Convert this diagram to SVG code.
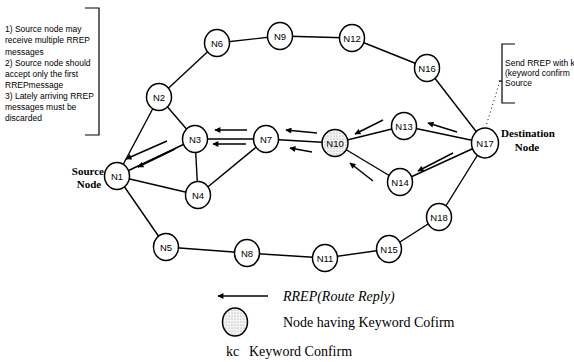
<svg xmlns="http://www.w3.org/2000/svg" width="574" height="362" viewBox="0 0 574 362">
<style>
.edge{stroke:#000;stroke-width:1.4;fill:none}
.arr{stroke:#000;stroke-width:1.5;fill:none;marker-end:url(#ah)}
.node{fill:#fff;stroke:#000;stroke-width:1.5}
.kc{fill:url(#dots);stroke:#000;stroke-width:1.5}
.nl{font-family:"Liberation Sans",Arial,sans-serif;font-size:9.5px;text-anchor:middle;fill:#000}
.note{font-family:"Liberation Sans",Arial,sans-serif;font-size:8.5px;fill:#000}
.lab{font-family:"Liberation Serif","Times New Roman",serif;font-size:11px;font-weight:bold;fill:#000}
.leg{font-family:"Liberation Serif","Times New Roman",serif;font-size:14px;fill:#000}
.br{stroke:#000;stroke-width:1.2;fill:none}
</style>
<defs>
<marker id="ah" viewBox="0 0 10 10" refX="9" refY="5" markerWidth="7" markerHeight="6" markerUnits="userSpaceOnUse" orient="auto">
<path d="M0,0 L10,5 L0,10 z" fill="#000"/>
</marker>
<pattern id="dots" width="3" height="3" patternUnits="userSpaceOnUse">
<rect width="3" height="3" fill="#f4f4f4"/>
<circle cx="1" cy="1" r="0.6" fill="#999"/>
</pattern>
</defs>
<rect width="574" height="362" fill="#fff"/>

<g id="connectors">
<line class="edge" x1="117" y1="176" x2="159" y2="97"/>
<line class="edge" x1="117" y1="176" x2="195" y2="139"/>
<line class="edge" x1="117" y1="176" x2="198" y2="195"/>
<line class="edge" x1="117" y1="176" x2="166" y2="247"/>
<line class="edge" x1="159" y1="97" x2="195" y2="139"/>
<line class="edge" x1="159" y1="97" x2="217" y2="43"/>
<line class="edge" x1="195" y1="139" x2="198" y2="195"/>
<line class="edge" x1="195" y1="139" x2="266" y2="139"/>
<line class="edge" x1="198" y1="195" x2="266" y2="139"/>
<line class="edge" x1="166" y1="247" x2="247" y2="253"/>
<line class="edge" x1="247" y1="253" x2="325" y2="258"/>
<line class="edge" x1="325" y1="258" x2="389" y2="249"/>
<line class="edge" x1="389" y1="249" x2="439" y2="217"/>
<line class="edge" x1="439" y1="217" x2="485" y2="143"/>
<line class="edge" x1="217" y1="43" x2="280" y2="36"/>
<line class="edge" x1="280" y1="36" x2="352" y2="38"/>
<line class="edge" x1="352" y1="38" x2="427" y2="68"/>
<line class="edge" x1="427" y1="68" x2="485" y2="143"/>
<line class="edge" x1="266" y1="139" x2="335" y2="143"/>
<line class="edge" x1="335" y1="143" x2="404" y2="126"/>
<line class="edge" x1="335" y1="143" x2="400" y2="182"/>
<line class="edge" x1="404" y1="126" x2="485" y2="143"/>
<line class="edge" x1="400" y1="182" x2="485" y2="143"/>
<line x1="500" y1="81" x2="486" y2="126" stroke="#000" stroke-width="1" stroke-dasharray="1 3"/>
<!-- RREP arrows -->
<line class="arr" x1="457" y1="132" x2="428" y2="123"/>
<line class="arr" x1="453" y1="153" x2="418" y2="171"/>
<line class="arr" x1="383" y1="120" x2="355" y2="134"/>
<line class="arr" x1="373" y1="181" x2="350" y2="163"/>
<line class="arr" x1="317" y1="133" x2="286" y2="130"/>
<line class="arr" x1="312" y1="152" x2="290" y2="148"/>
<line class="arr" x1="247" y1="130" x2="215" y2="130"/>
<line class="arr" x1="246" y1="144" x2="213" y2="144"/>
<line class="arr" x1="167" y1="141" x2="126" y2="159"/>
<line class="arr" x1="175" y1="149" x2="138" y2="167"/>
</g>

<g id="N1"><ellipse class="node" cx="117" cy="176" rx="12.5" ry="13.5"/><text class="nl" x="117" y="179.5">N1</text></g>
<g id="N2"><ellipse class="node" cx="159" cy="97" rx="12.5" ry="13.5"/><text class="nl" x="159" y="100.5">N2</text></g>
<g id="N3"><ellipse class="node" cx="195" cy="139" rx="12.5" ry="13.5"/><text class="nl" x="195" y="142.5">N3</text></g>
<g id="N4"><ellipse class="node" cx="198" cy="195" rx="12.5" ry="13.5"/><text class="nl" x="198" y="198.5">N4</text></g>
<g id="N5"><ellipse class="node" cx="166" cy="247" rx="12.5" ry="13.5"/><text class="nl" x="166" y="250.5">N5</text></g>
<g id="N6"><ellipse class="node" cx="217" cy="43" rx="12.5" ry="13.5"/><text class="nl" x="217" y="46.5">N6</text></g>
<g id="N7"><ellipse class="node" cx="266" cy="139" rx="12.5" ry="13.5"/><text class="nl" x="266" y="142.5">N7</text></g>
<g id="N8"><ellipse class="node" cx="247" cy="253" rx="12.5" ry="13.5"/><text class="nl" x="247" y="256.5">N8</text></g>
<g id="N9"><ellipse class="node" cx="280" cy="36" rx="12.5" ry="13.5"/><text class="nl" x="280" y="39.5">N9</text></g>
<g id="N10"><ellipse class="kc" cx="335" cy="143" rx="13" ry="13.5"/><text class="nl" x="335" y="146.5">N10</text></g>
<g id="N11"><ellipse class="node" cx="325" cy="258" rx="12.5" ry="13.5"/><text class="nl" x="325" y="261.5">N11</text></g>
<g id="N12"><ellipse class="node" cx="352" cy="38" rx="12.5" ry="13.5"/><text class="nl" x="352" y="41.5">N12</text></g>
<g id="N13"><ellipse class="node" cx="404" cy="126" rx="12.5" ry="13.5"/><text class="nl" x="404" y="129.5">N13</text></g>
<g id="N14"><ellipse class="node" cx="400" cy="182" rx="12.5" ry="13.5"/><text class="nl" x="400" y="185.5">N14</text></g>
<g id="N15"><ellipse class="node" cx="389" cy="249" rx="12.5" ry="13.5"/><text class="nl" x="389" y="252.5">N15</text></g>
<g id="N16"><ellipse class="node" cx="427" cy="68" rx="12.5" ry="13.5"/><text class="nl" x="427" y="71.5">N16</text></g>
<g id="N17"><ellipse class="node" cx="485" cy="143" rx="13.5" ry="15"/><text class="nl" x="485" y="146.5">N17</text></g>
<g id="N18"><ellipse class="node" cx="439" cy="217" rx="12.5" ry="13.5"/><text class="nl" x="439" y="220.5">N18</text></g>

<g id="source-label">
<text class="lab" x="104" y="175" text-anchor="end">Source</text>
<text class="lab" x="89" y="188" text-anchor="middle">Node</text>
</g>
<g id="dest-label">
<text class="lab" x="528" y="137" text-anchor="middle">Destination</text>
<text class="lab" x="527" y="151" text-anchor="middle">Node</text>
</g>

<g id="left-note">
<path class="br" d="M85,8 H99 V135 H85"/>
<text class="note" x="5" y="32">1) Source node may</text>
<text class="note" x="5" y="43">receive multiple RREP</text>
<text class="note" x="5" y="55">messages</text>
<text class="note" x="5" y="66">2) Source node should</text>
<text class="note" x="5" y="77">accept only the first</text>
<text class="note" x="5" y="88">RREPmessage</text>
<text class="note" x="5" y="99">3) Lately arriving RREP</text>
<text class="note" x="5" y="110">messages must be</text>
<text class="note" x="5" y="121">discarded</text>
</g>

<g id="right-note">
<path class="br" d="M515,44 H502 V103 H515"/>
<line class="br" x1="499" y1="81" x2="502" y2="81"/>
<text class="note" x="505" y="66" font-size="8px">Send RREP with k</text>
<text class="note" x="505" y="76" font-size="8px">(keyword confirm</text>
<text class="note" x="505" y="86" font-size="8px">Source</text>
</g>

<g id="legend">
<line class="arr" x1="268" y1="296" x2="218" y2="296"/>
<text class="leg" x="283" y="301" font-style="italic">RREP(Route Reply)</text>
<ellipse class="kc" cx="235" cy="322" rx="12.5" ry="14"/>
<text class="leg" x="283" y="327">Node having Keyword Cofirm</text>
<text class="leg" x="226" y="356">kc</text>
<text class="leg" x="249" y="356">Keyword Confirm</text>
</g>
</svg>
